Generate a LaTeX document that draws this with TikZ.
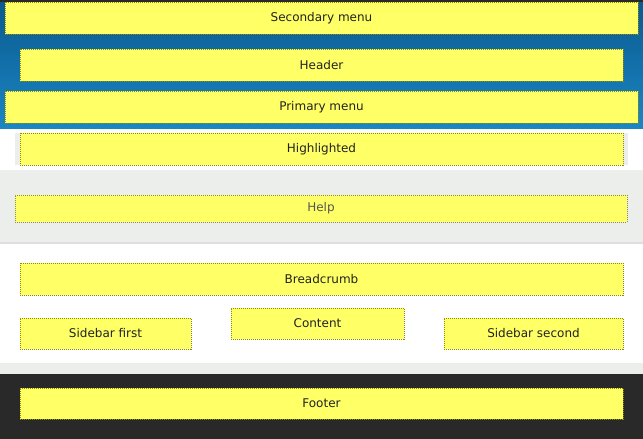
\documentclass[tikz,border=0pt]{standalone}
\usepackage{fontspec}
\setmainfont{DejaVu Sans}
\definecolor{boxfill}{HTML}{FFFF66}
\definecolor{boxline}{HTML}{8C8C00}
\definecolor{helpline}{HTML}{8C8C50}
\definecolor{helptxt}{HTML}{555555}
\definecolor{bluetop}{HTML}{0A5A8F}
\definecolor{bluebot}{HTML}{1B86C3}
\definecolor{lightgrey}{HTML}{ECEEEB}
\definecolor{sepgrey}{HTML}{DEDEDE}
\definecolor{darkbg}{HTML}{292929}
\definecolor{txt}{HTML}{222222}
\begin{document}
\begin{tikzpicture}[x=1pt,y=-1pt,
  box/.style={draw=boxline, fill=boxfill, line width=1pt, dash pattern=on 1pt off 1pt,
    inner sep=0pt, text=txt, font=\fontsize{12}{14}\selectfont},
  helpbox/.style={box, draw=helpline, text=helptxt}]
\useasboundingbox (0,0) rectangle (643,439);
% backgrounds
\fill[white] (0,0) rectangle (643,439);
\shade[top color=bluetop, bottom color=bluebot] (0,2) rectangle (643,128);
\fill[darkbg] (0,0) rectangle (643,2);
\fill[lightgrey] (0,170) rectangle (643,242);
\fill[sepgrey] (0,242) rectangle (643,243.5);
\fill[lightgrey] (15,133) rectangle (628,165);
\fill[lightgrey] (0,363) rectangle (643,374);
\fill[darkbg] (0,374) rectangle (643,439);
% boxes
\node[box, minimum width=633pt, minimum height=32pt] (secondary) at (321.5,18) {Secondary menu};
\node[box, minimum width=603pt, minimum height=32pt] (header) at (321.5,65) {Header};
\node[box, minimum width=633pt, minimum height=32pt] (primary) at (321.5,107) {Primary menu};
\node[box, minimum width=603pt, minimum height=32pt] (highlighted) at (321.5,149) {Highlighted};
\node[helpbox, minimum width=612pt, minimum height=27pt] (help) at (321,208.5) {Help};
\node[box, minimum width=603pt, minimum height=32pt] (breadcrumb) at (321.5,279) {Breadcrumb};
\node[box, minimum width=171pt, minimum height=31pt] (sidebarfirst) at (105.5,333.5) {Sidebar first};
\node[box, minimum width=173pt, minimum height=31pt] (content) at (317.5,323.5) {Content};
\node[box, minimum width=179pt, minimum height=31pt] (sidebarsecond) at (533.5,333.5) {Sidebar second};
\node[box, minimum width=603pt, minimum height=31pt] (footer) at (321.5,403.5) {Footer};
\end{tikzpicture}
\end{document}
